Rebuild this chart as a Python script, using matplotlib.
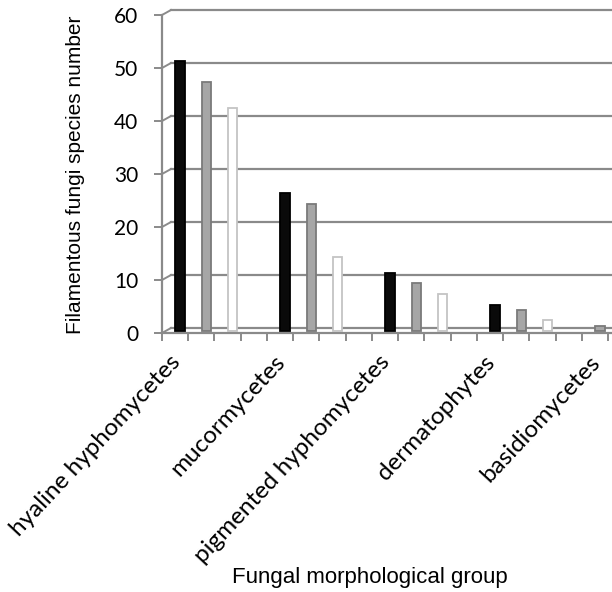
import matplotlib
matplotlib.use('Agg')
import matplotlib.pyplot as plt
import matplotlib.transforms as mtransforms
import numpy as np

groups = ['hyaline hyphomycetes', 'mucormycetes', 'pigmented hyphomycetes',
          'dermatophytes', 'basidiomycetes']
black_vals = [51, 26, 11, 5, 1]
gray_vals = [47, 24, 9, 4, 0]
white_vals = [42, 14, 7, 2, 0]
y_ticks = [0, 10, 20, 30, 40, 50, 60]

grid_col = '#8a8a8a'
slots = 4  # 3 bars + one empty slot per group

fig = plt.figure(figsize=(6.12, 5.92), dpi=100)
ax = fig.add_axes([162 / 612, 1 - 333 / 592, 1 - 162 / 612, 318 / 592])
ax.set_xlim(0, 17.15)
ax.set_ylim(0, 60)

dpi = fig.dpi_scale_trans
bar_off = ax.transData + mtransforms.ScaledTranslation(5 / 100, 2 / 100, dpi)
back_off = ax.transData + mtransforms.ScaledTranslation(9 / 100, 5 / 100, dpi)

# back wall gridlines and the diagonal joins to the front axis
for v in y_ticks:
    ax.plot([0, 20], [v, v], color=grid_col, lw=1.6, transform=back_off,
            clip_on=False, zorder=1)
    x0, y0 = ax.transData.transform((0, v))
    ax.plot([x0, x0 + 9], [y0, y0 + 5], color=grid_col, lw=1.4,
            transform=None, clip_on=False, zorder=1)

series = [(black_vals, '#0a0a0a', '#000000'),
          (gray_vals, '#a6a6a6', '#7a7a7a'),
          (white_vals, '#ffffff', '#c4c4c4')]
for k, (vals, fc, ec) in enumerate(series):
    xs = np.arange(len(groups)) * slots + k + 0.5
    for x, v in zip(xs, vals):
        if v <= 0:
            continue
        face, edge = fc, ec
        if v < 2:
            # tiny cylinder: only the light top cap shows
            face, edge = '#a6a6a6', '#7a7a7a'
        ax.bar(x, v, width=0.36, color=face, edgecolor=edge, lw=1.3,
               transform=bar_off, zorder=3, clip_on=False)

for s in ['top', 'right']:
    ax.spines[s].set_visible(False)
for s in ['left', 'bottom']:
    ax.spines[s].set_color(grid_col)
    ax.spines[s].set_linewidth(1.6)

ax.set_yticks(y_ticks)
ax.set_yticklabels([str(t) for t in y_ticks], fontsize=15, family='Lato')
ax.set_xticks(np.arange(0, 18))
ax.set_xticklabels([])
ax.tick_params(axis='both', length=6, width=1.4, color=grid_col, direction='out')
ax.tick_params(axis='y', pad=11)

for i, g in enumerate(groups):
    ax.text(i * slots + 0.55, -0.08, g, transform=ax.get_xaxis_transform(),
            rotation=47, rotation_mode='anchor', ha='right', va='center',
            fontsize=17.5, family='Lato')

fig.text(76 / 612, 1 - 175 / 592, 'Filamentous fungi species number',
         rotation=90, ha='center', va='center', fontsize=15,
         family='Liberation Sans')
fig.text(370 / 612, 1 - 577 / 592, 'Fungal morphological group',
         ha='center', va='center', fontsize=16, family='Liberation Sans')

fig.savefig('out.png', dpi=100)
